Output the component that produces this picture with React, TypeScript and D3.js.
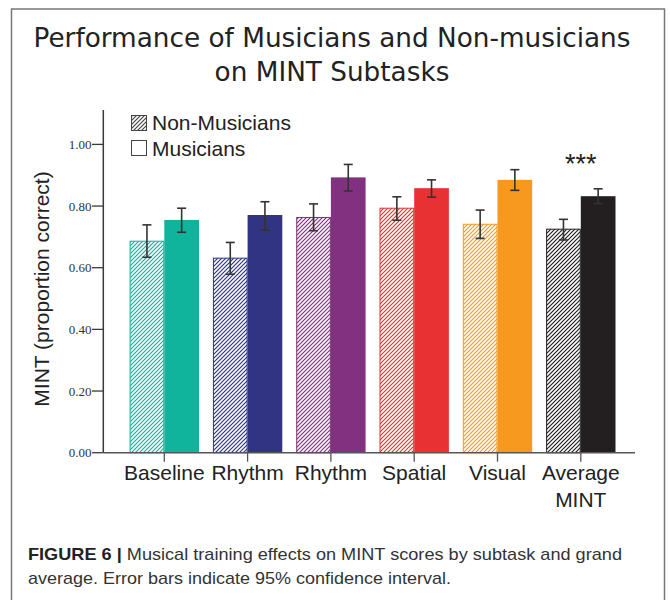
import React from "react";
import * as d3 from "d3";

const categories = ["Baseline", "Rhythm", "Rhythm", "Spatial", "Visual", "Average\nMINT"];
const nonMusicians = [0.686, 0.631, 0.763, 0.793, 0.741, 0.725];
const nonMusiciansLow = [0.634, 0.579, 0.72, 0.754, 0.695, 0.69];
const nonMusiciansHigh = [0.739, 0.682, 0.807, 0.83, 0.787, 0.757];
const musicians = [0.755, 0.771, 0.893, 0.858, 0.885, 0.832];
const musiciansLow = [0.715, 0.722, 0.849, 0.829, 0.851, 0.808];
const musiciansHigh = [0.793, 0.814, 0.935, 0.885, 0.918, 0.856];
const colors = ["#10b39b", "#303482", "#813180", "#e83133", "#f7981f", "#231f20"];
const yTicks = [0, 0.2, 0.4, 0.6, 0.8, 1.0];
const legendLabels = ["Non-Musicians", "Musicians"];
const significance = ["", "", "", "", "", "***"];

const SANS = "'Liberation Sans', Arial, Helvetica, sans-serif";

export default function App() {
  const y = d3.scaleLinear().domain([0, 1]).range([452.7, 144.4]);
  const x = d3
    .scaleBand<number>()
    .domain(categories.map((_, i) => i))
    .range([122.65, 622.45])
    .paddingInner(0.167)
    .paddingOuter(0.0835);
  const inner = d3.scaleBand<number>().domain([0, 1]).range([0, x.bandwidth()]);
  const fmt = d3.format(".2f");
  const axisColor = "#3a3a3a";

  return (
    <svg
      width={670}
      height={600}
      style={{ position: "absolute", left: 0, top: 0, background: "#fff" }}
    >
      <defs>
        {colors.map((c, i) => (
          <pattern
            key={i}
            id={`hatch-${i}`}
            patternUnits="userSpaceOnUse"
            width={4}
            height={4}
          >
            <rect width={4} height={4} fill="#fff" />
            <path d="M-1,1 l2,-2 M0,4 l4,-4 M3,5 l2,-2" stroke={c} strokeWidth={1.2} />
          </pattern>
        ))}
        <pattern id="hatch-legend" patternUnits="userSpaceOnUse" width={4} height={4}>
          <rect width={4} height={4} fill="#fff" />
          <path d="M-1,1 l2,-2 M0,4 l4,-4 M3,5 l2,-2" stroke="#444" strokeWidth={1.2} />
        </pattern>
      </defs>

      {/* frame */}
      <rect x={11.5} y={9} width={653} height={600} fill="none" stroke="#777" strokeWidth={1.5} />

      {/* title */}
      <text
        x={332}
        y={47}
        textAnchor="middle"
        fontFamily="'DejaVu Sans', sans-serif"
        fontSize={26.3}
        fill="#222"
      >
        Performance of Musicians and Non-musicians
      </text>
      <text
        x={332}
        y={81}
        textAnchor="middle"
        fontFamily="'DejaVu Sans', sans-serif"
        fontSize={26.3}
        fill="#222"
      >
        on MINT Subtasks
      </text>

      {/* bars */}
      {categories.map((_, i) => {
        const x0 = x(i)!;
        const w = inner.bandwidth();
        const xn = x0 + inner(0)!;
        const xm = x0 + inner(1)!;
        return (
          <g key={i}>
            <rect
              x={xn + 0.5}
              y={y(nonMusicians[i])}
              width={w - 1}
              height={y(0) - y(nonMusicians[i])}
              fill={`url(#hatch-${i})`}
              stroke={colors[i]}
              strokeWidth={1}
            />
            <rect
              x={xm}
              y={y(musicians[i])}
              width={w}
              height={y(0) - y(musicians[i])}
              fill={colors[i]}
            />
          </g>
        );
      })}

      {/* error bars */}
      {categories.map((_, i) => {
        const x0 = x(i)!;
        const w = inner.bandwidth();
        const items = [
          { cx: x0 + inner(0)! + w / 2, lo: nonMusiciansLow[i], hi: nonMusiciansHigh[i] },
          { cx: x0 + inner(1)! + w / 2, lo: musiciansLow[i], hi: musiciansHigh[i] },
        ];
        return (
          <g key={i} stroke="#333" strokeWidth={1.6} fill="none">
            {items.map((it, j) => (
              <g key={j}>
                <line x1={it.cx} x2={it.cx} y1={y(it.lo)} y2={y(it.hi)} />
                <line x1={it.cx - 4.5} x2={it.cx + 4.5} y1={y(it.hi)} y2={y(it.hi)} />
                <line x1={it.cx - 4.5} x2={it.cx + 4.5} y1={y(it.lo)} y2={y(it.lo)} />
              </g>
            ))}
          </g>
        );
      })}

      {/* significance */}
      {significance.map((s, i) =>
        s ? (
          <text
            key={i}
            x={x(i)! + x.bandwidth() / 2}
            y={173}
            textAnchor="middle"
            fontFamily={SANS}
            fontSize={27}
            fill="#222"
          >
            {s}
          </text>
        ) : null
      )}

      {/* y axis */}
      <line x1={103.3} x2={103.3} y1={110} y2={y(0)} stroke={axisColor} strokeWidth={1.5} />
      {yTicks.map((t) => (
        <g key={t}>
          <line x1={92} x2={103.3} y1={y(t)} y2={y(t)} stroke={axisColor} strokeWidth={1.3} />
          <text
            x={91.5}
            y={y(t) + 4.5}
            textAnchor="end"
            fontFamily="'Liberation Serif', 'Times New Roman', serif"
            fontSize={13}
            fill="#333"
          >
            {fmt(t)}
          </text>
        </g>
      ))}
      <text
        transform={`translate(49,${289}) rotate(-90)`}
        textAnchor="middle"
        fontFamily={SANS}
        fontSize={21}
        fill="#222"
      >
        MINT (proportion correct)
      </text>

      {/* x axis */}
      <line x1={103.3} x2={635} y1={y(0)} y2={y(0)} stroke="#555" strokeWidth={1.5} />
      {categories.map((c, i) => {
        const cx = x(i)! + x.bandwidth() / 2;
        return (
          <g key={i}>
            <line x1={cx} x2={cx} y1={y(0)} y2={y(0) + 9} stroke="#555" strokeWidth={1.3} />
            {c.split("\n").map((line, k) => (
              <text
                key={k}
                x={cx}
                y={480 + k * 26.5}
                textAnchor="middle"
                fontFamily={SANS}
                fontSize={21}
                fill="#222"
              >
                {line}
              </text>
            ))}
          </g>
        );
      })}

      {/* legend */}
      <rect x={131.5} y={115.5} width={15} height={15} fill="url(#hatch-legend)" stroke="#444" strokeWidth={1} />
      <text x={152} y={129.5} fontFamily={SANS} fontSize={21} fill="#222">
        {legendLabels[0]}
      </text>
      <rect x={131.5} y={140.5} width={15} height={15} fill="#fff" stroke="#444" strokeWidth={1} />
      <text x={152} y={155.5} fontFamily={SANS} fontSize={21} fill="#222">
        {legendLabels[1]}
      </text>

      {/* caption */}
      <text
        x={28}
        y={560}
        fontFamily={SANS}
        fontSize={17}
        fill="#333"
        textLength={594}
        lengthAdjust="spacingAndGlyphs"
      >
        <tspan fontWeight="bold" fill="#222">FIGURE 6 |</tspan>
        <tspan> Musical training effects on MINT scores by subtask and grand</tspan>
      </text>
      <text
        x={28}
        y={584}
        fontFamily={SANS}
        fontSize={17}
        fill="#333"
        textLength={423}
        lengthAdjust="spacingAndGlyphs"
      >
        average. Error bars indicate 95% confidence interval.
      </text>
    </svg>
  );
}
